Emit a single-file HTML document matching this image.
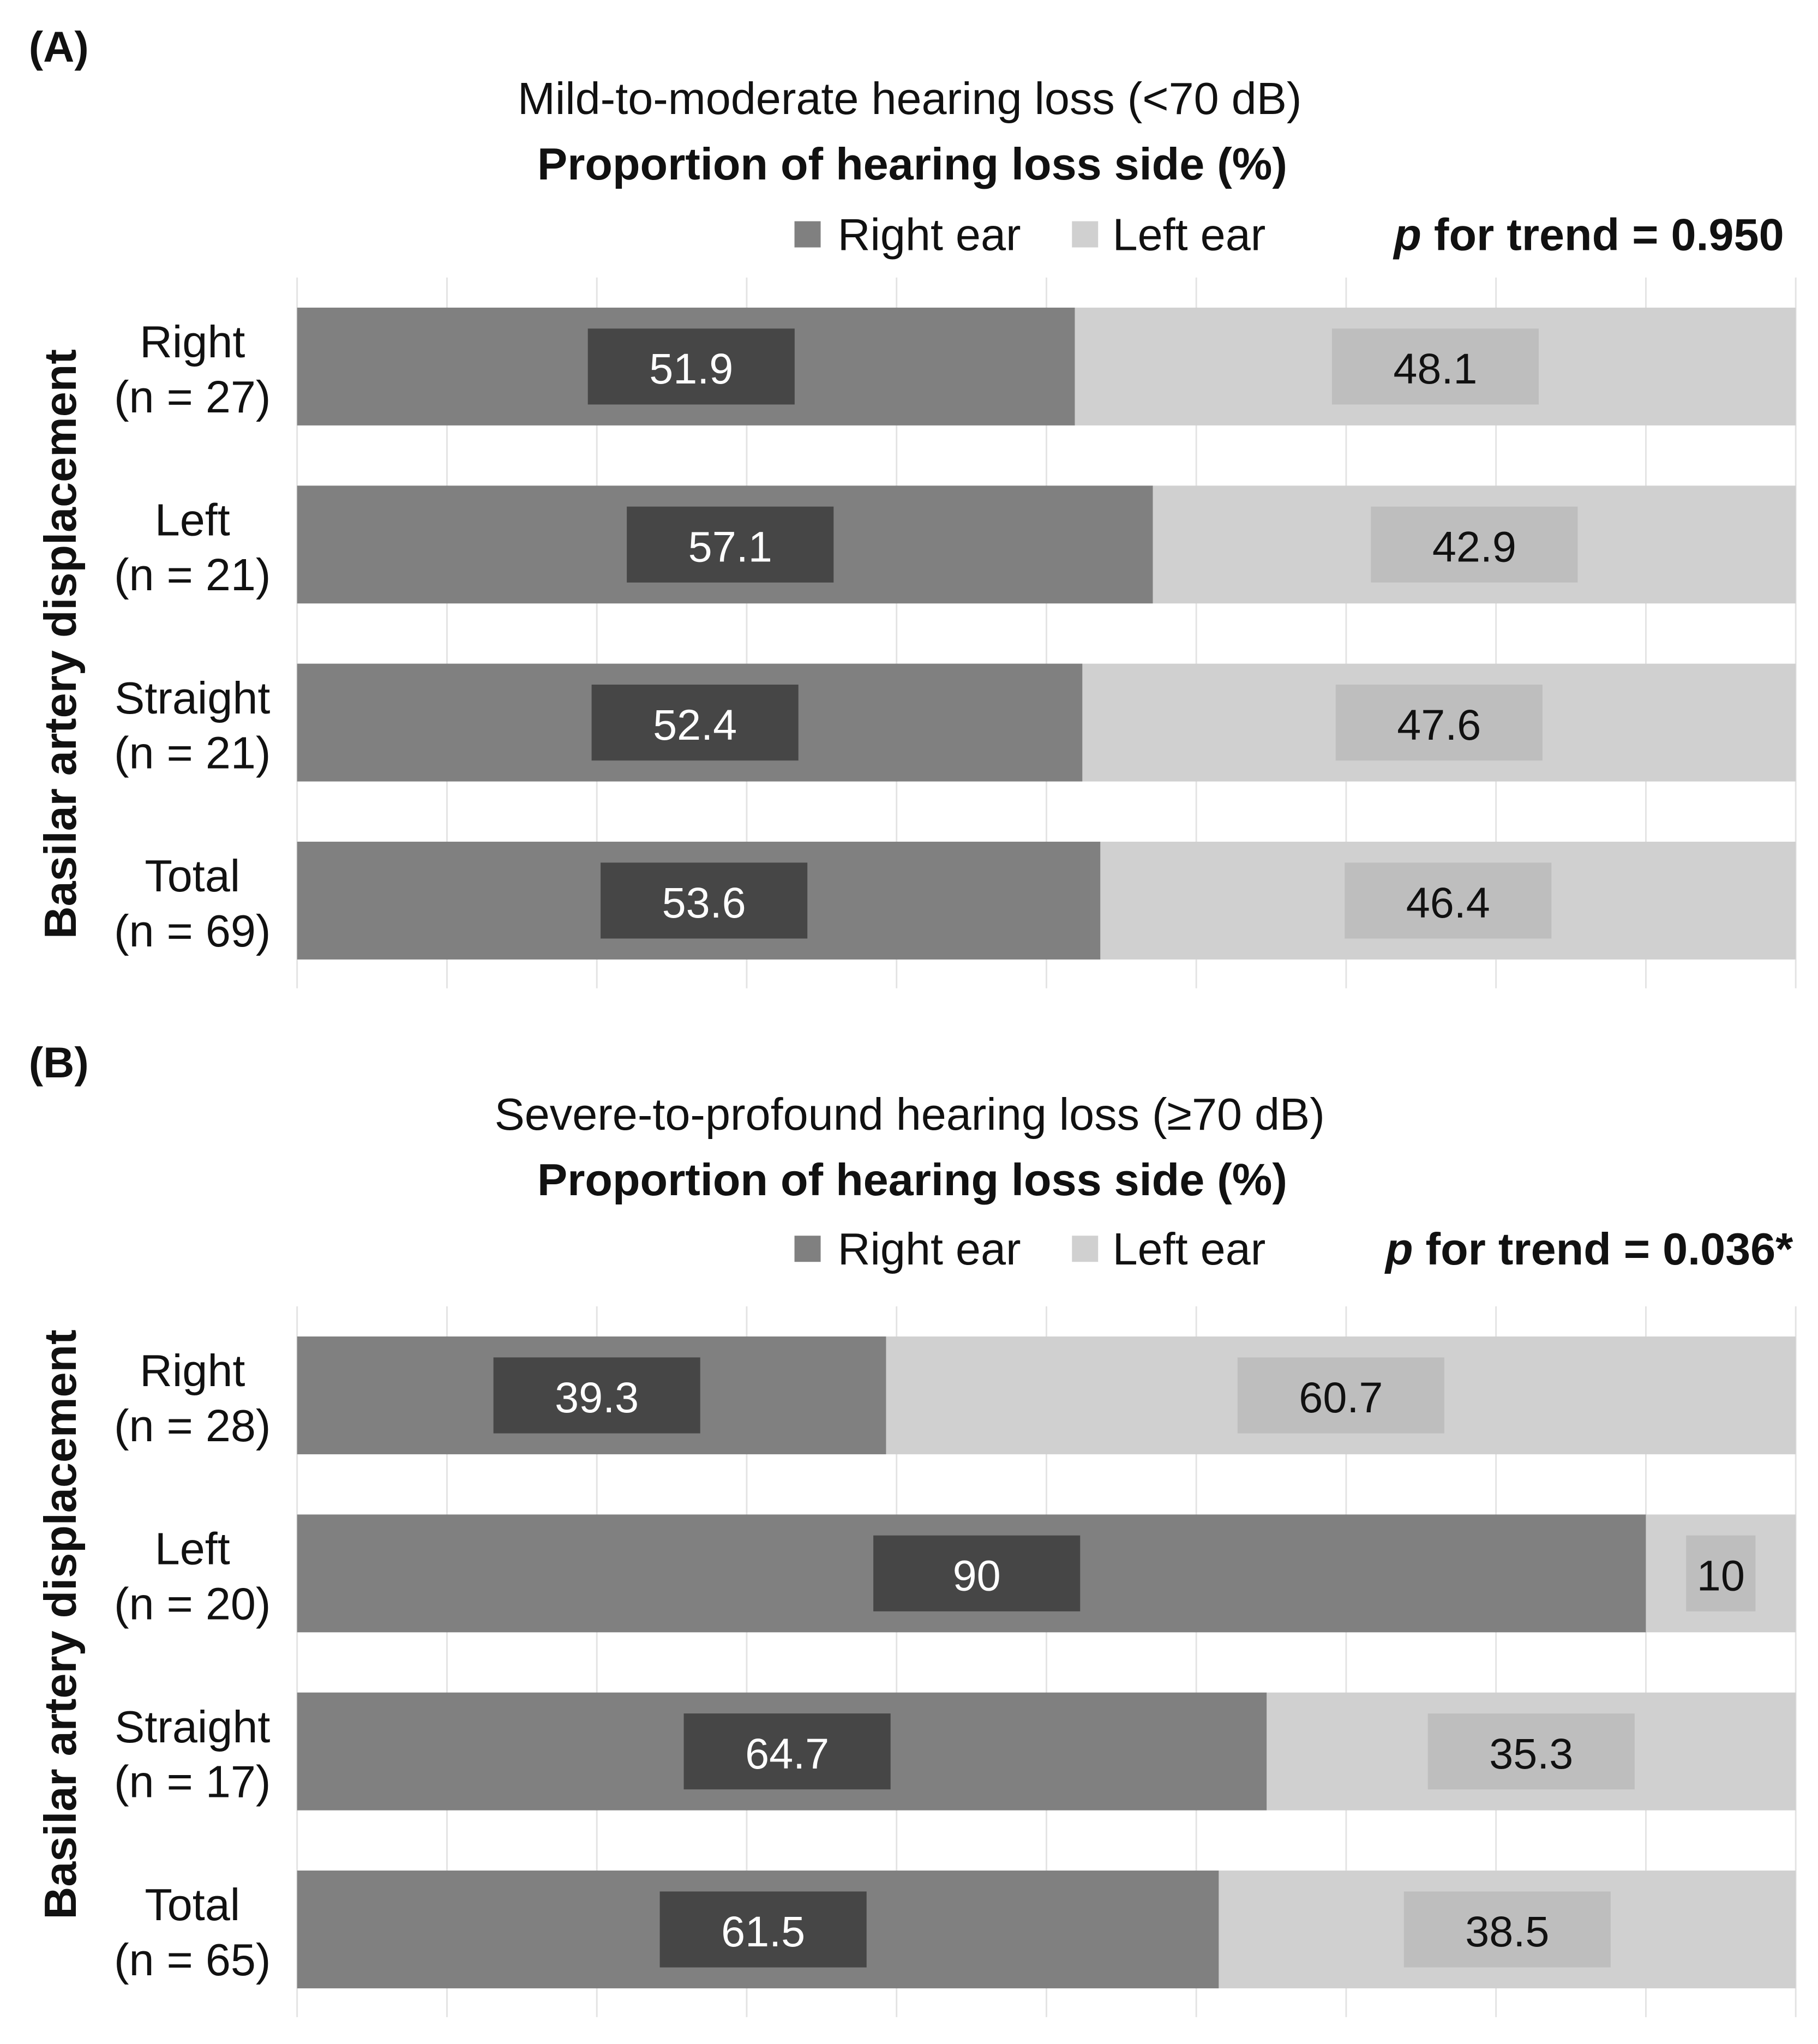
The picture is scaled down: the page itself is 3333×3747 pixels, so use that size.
<!DOCTYPE html>
<html><head><meta charset="utf-8"><style>
html,body{margin:0;padding:0;background:#fff;}
svg{display:block;font-family:"Liberation Sans",Arial,sans-serif;}
</style></head><body>
<svg id="chart" width="3333" height="3747" viewBox="0 0 1389 1561.5" xmlns="http://www.w3.org/2000/svg"></svg>
<script>
const categoriesA = ["Right", "Left", "Straight", "Total"];
const countsA = [27, 21, 21, 69];
const rightA = [51.9, 57.1, 52.4, 53.6];
const leftA = [48.1, 42.9, 47.6, 46.4];
const categoriesB = ["Right", "Left", "Straight", "Total"];
const countsB = [28, 20, 17, 65];
const rightB = [39.3, 90, 64.7, 61.5];
const leftB = [60.7, 10, 35.3, 38.5];
const gridTicks = [0,10,20,30,40,50,60,70,80,90,100];

const svg = document.getElementById('chart');
const NS = "http://www.w3.org/2000/svg";
function el(tag, attrs, parent, text){
  const e = document.createElementNS(NS, tag);
  for (const k in attrs) e.setAttribute(k, attrs[k]);
  if (text !== undefined) e.textContent = text;
  (parent||svg).appendChild(e);
  return e;
}
const X0 = 227, X1 = 1372;
const FS = 34.5;
function xs(v){ return X0 + (X1 - X0) * v / 100; }

function panel(opt){
  const g = el('g', {});
  
  
  let t = el('text', {x:22, y:opt.ty+47, 'font-size':33, 'font-weight':'bold', fill:'#111'}, g, opt.tag);
  
  
  t = el('text', {x:695, y:opt.ty+87, 'font-size':FS, 'text-anchor':'middle', fill:'#111'}, g, opt.title);
  
  
  t = el('text', {x:697, y:opt.ty+137, 'font-size':FS, 'font-weight':'bold', 'text-anchor':'middle', fill:'#111'}, g, 'Proportion of hearing loss side (%)');
  
  
  const ly = opt.ly;
  let r = el('rect', {x:607, y:ly-10, width:20, height:20, fill:'#808080'}, g);
  
  
  t = el('text', {x:640, y:ly+12, 'font-size':FS, fill:'#111'}, g, 'Right ear');
  
  
  r = el('rect', {x:819, y:ly-10, width:20, height:20, fill:'#d0d0d0'}, g);
  
  
  t = el('text', {x:850, y:ly+12, 'font-size':FS, fill:'#111'}, g, 'Left ear');
  
  
  t = el('text', {x:opt.px, y:ly+12, 'font-size':FS, 'font-weight':'bold', 'text-anchor':'end', fill:'#111'}, g);
  
  
  el('tspan', {'font-style':'italic'}, t, 'p');
  el('tspan', {}, t, ' for trend = ' + opt.pval);
  gridTicks.forEach(v => {
    const l = el('line', {x1:xs(v), x2:xs(v), y1:opt.by-23, y2:opt.by+520, stroke:'#e3e3e3', 'stroke-width':1.2}, g);
    
    
  });
  t = el('text', {x:0, y:0, 'font-size':FS, 'font-weight':'bold', 'text-anchor':'middle', fill:'#111', transform:`translate(58,${opt.yc}) rotate(-90)`}, g, 'Basilar artery displacement');
  
  
  opt.cats.forEach((c, i) => {
    const y = opt.by + i*136;
    const cy = y + 45;
    let lab = el('text', {x:147, y:cy-7, 'font-size':FS, 'text-anchor':'middle', fill:'#111'}, g, c);
    
    
    lab = el('text', {x:147, y:cy+35, 'font-size':FS, 'text-anchor':'middle', fill:'#111'}, g, '(n = ' + opt.counts[i] + ')');
    
    
    const rv = opt.right[i], lv = opt.left[i];
    let b = el('rect', {x:xs(0), y:y, width:xs(rv)-xs(0), height:90, fill:'#808080'}, g);
    
    
    b = el('rect', {x:xs(rv), y:y, width:xs(rv+lv)-xs(rv), height:90, fill:'#d0d0d0'}, g);
    
    
    const cR = xs(rv/2) + 4;
    let w = 158;
    let bx = el('rect', {x:cR-w/2, y:cy-29, width:w, height:58, fill:'#464646'}, g);
    
    
    let vt = el('text', {x:cR, y:cy+13, 'font-size':33, 'text-anchor':'middle', fill:'#fff'}, g, String(rv));
    
    
    const cL = xs(rv + lv/2);
    w = lv < 15 ? 53 : 158;
    bx = el('rect', {x:cL-w/2, y:cy-29, width:w, height:58, fill:'#bebebe'}, g);
    
    
    vt = el('text', {x:cL, y:cy+13, 'font-size':33, 'text-anchor':'middle', fill:'#111'}, g, String(lv));
    
    
  });
}
panel({name:'panel-a', tag:'(A)', title:'Mild-to-moderate hearing loss (<70 dB)', ty:0, ly:179, px:1363, pval:'0.950', by:235, yc:492, cats:categoriesA, counts:countsA, right:rightA, left:leftA});
panel({name:'panel-b', tag:'(B)', title:'Severe-to-profound hearing loss (\u226570 dB)', ty:776, ly:954, px:1370, pval:'0.036*', by:1021, yc:1241, cats:categoriesB, counts:countsB, right:rightB, left:leftB});
</script>
</body></html>
